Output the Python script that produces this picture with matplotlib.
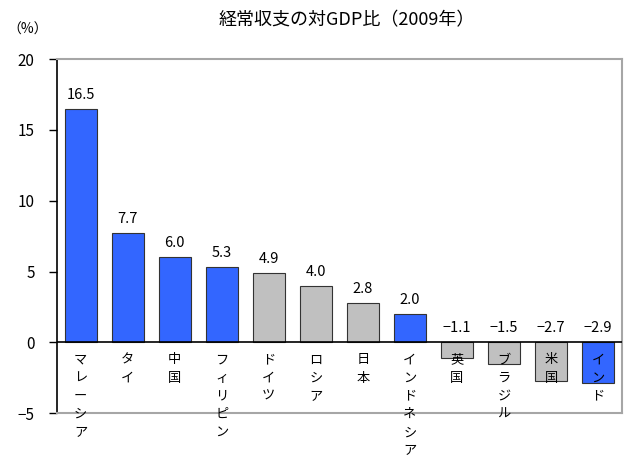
import numpy as np
import matplotlib
matplotlib.use("Agg")
import matplotlib.pyplot as plt

plt.rcParams['font.family'] = ['Noto Sans CJK JP', 'DejaVu Sans']

countries = ["マレーシア", "タイ", "中国", "フィリピン", "ドイツ", "ロシア", "日本",
             "インドネシア", "英国", "ブラジル", "米国", "インド"]
values = [16.5, 7.7, 6.0, 5.3, 4.9, 4.0, 2.8, 2.0, -1.1, -1.5, -2.7, -2.9]
asia = [True, True, True, True, False, False, False, True, False, False, False, True]

blue = "#3366FF"
gray = "#C0C0C0"

fig = plt.figure(figsize=(6.25, 4.59), dpi=100)
ax = fig.add_axes([0.0912, 0.100, 0.9035, 0.771])

x = np.arange(len(countries))
colors = [blue if a else gray for a in asia]
ax.bar(x, values, width=0.68, color=colors, edgecolor="#333333", linewidth=0.8, zorder=3)

ax.set_xlim(-0.5, len(countries) - 0.5)
ax.set_ylim(-5, 20)
ax.set_yticks([-5, 0, 5, 10, 15, 20])
ax.set_yticklabels(["\u22125", "0", "5", "10", "15", "20"], fontsize=11)
ax.set_xticks([])
ax.tick_params(axis="y", direction="out", length=6, width=1, pad=10)

ax.axhline(0, color="black", linewidth=1.2, zorder=4)
for side in ["top", "right", "bottom"]:
    ax.spines[side].set_color("#A6A6A6")
    ax.spines[side].set_linewidth(1.5)
ax.spines["left"].set_color("black")
ax.spines["left"].set_linewidth(1.2)

for xi, v in zip(x, values):
    y = v if v > 0 else 0
    lab = f"{v:.1f}".replace("-", "\u2212")
    ax.annotate(lab, (xi, y), xytext=(0, 5), textcoords="offset points",
                ha="center", va="bottom", fontsize=10.5)

for xi, name in zip(x, countries):
    ax.annotate("\n".join(name), (xi, 0), xytext=(0, -8), textcoords="offset points",
                ha="center", va="top", fontsize=9.5, linespacing=1.52,
                annotation_clip=False, zorder=5)

fig.text(0.555, 0.955, "経常収支の対GDP比（2009年）", ha="center", va="center", fontsize=13)
fig.text(0.012, 0.935, "（%）", ha="left", va="center", fontsize=10)

fig.savefig("out.png", dpi=100)
